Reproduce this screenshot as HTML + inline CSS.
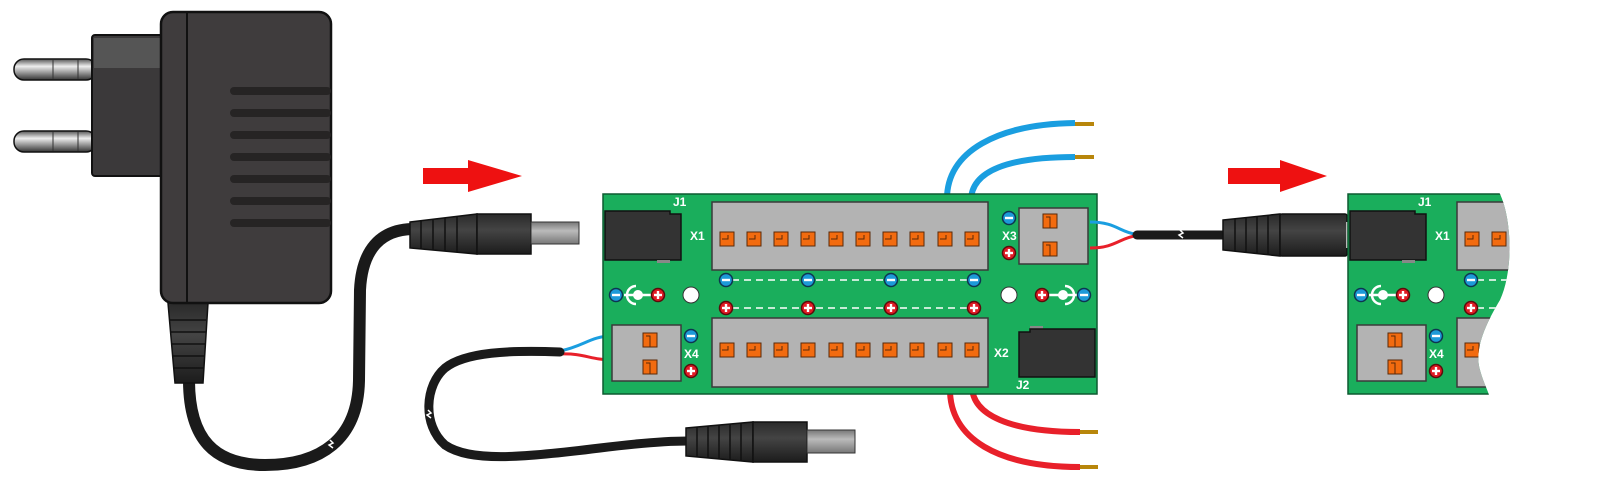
<!DOCTYPE html>
<html><head><meta charset="utf-8"><style>
html,body{margin:0;padding:0;background:#fff;width:1600px;height:499px;overflow:hidden}
svg{display:block}
text{font-family:"Liberation Sans",sans-serif;font-weight:bold;fill:#fff;font-size:12px}
</style></head><body>
<svg width="1600" height="499" viewBox="0 0 1600 499" xmlns="http://www.w3.org/2000/svg">
<defs>
<linearGradient id="pin" x1="0" y1="0" x2="0" y2="1"><stop offset="0" stop-color="#555"/><stop offset=".35" stop-color="#eee"/><stop offset="1" stop-color="#333"/></linearGradient>
<linearGradient id="tip" x1="0" y1="0" x2="0" y2="1"><stop offset="0" stop-color="#777"/><stop offset=".4" stop-color="#bbb"/><stop offset="1" stop-color="#777"/></linearGradient>
<linearGradient id="blk" x1="0" y1="0" x2="0" y2="1"><stop offset="0" stop-color="#2a2a2a"/><stop offset=".4" stop-color="#444"/><stop offset="1" stop-color="#1c1c1c"/></linearGradient>
<g id="pm"><circle r="6.5" fill="#1d9ad8" stroke="#0e3550" stroke-width="1.5"/><rect x="-4" y="-1.2" width="8" height="2.4" fill="#fff"/></g>
<g id="pp"><circle r="6.5" fill="#e01b24" stroke="#5a0c0c" stroke-width="1.5"/><rect x="-4" y="-1.2" width="8" height="2.4" fill="#fff"/><rect x="-1.2" y="-4" width="2.4" height="8" fill="#fff"/></g>
<g id="pad"><rect x="0" y="0" width="14" height="14" fill="#f26b0f" stroke="#5a2a08" stroke-width="1"/><path d="M2,7 H8 V3" fill="none" stroke="#5a2a08" stroke-width="1"/></g>
<g id="padv"><rect x="0" y="0" width="14" height="14" fill="#f26b0f" stroke="#5a2a08" stroke-width="1"/><path d="M7,14 V3 H3" fill="none" stroke="#5a2a08" stroke-width="1"/></g>
<g id="jack"><line x1="-14" y1="0" x2="14" y2="0" stroke="#fff" stroke-width="2.5"/><circle r="5" fill="#fff"/><path d="M-2,-9 A9,9 0 0 0 -2,9" fill="none" stroke="#fff" stroke-width="2.5"/></g>
<clipPath id="rclip"><path d="M1340,190 H1498 C1512,215 1514,270 1500,300 C1485,325 1474,350 1480,370 C1484,385 1490,394 1490,400 H1340 Z"/></clipPath>
</defs>

<!-- adapter cable -->
<path d="M189,380 C189,440 215,465 265,465 C320,465 358,440 359,380 L360,290 C362,250 380,230 412,229" fill="none" stroke="#1a1a1a" stroke-width="12"/>
<path d="M330,440 l3,3 l-4,2 l4,3" fill="none" stroke="#fff" stroke-width="1.5"/>
<!-- adapter -->
<path d="M168,303 L208,303 L203,383 L175,383 Z" fill="url(#blk)" stroke="#111" stroke-width="1.5"/>
<g stroke="#111" stroke-width="1.5"><line x1="170" y1="320" x2="206" y2="320"/><line x1="171" y1="332" x2="206" y2="332"/><line x1="172" y1="344" x2="205" y2="344"/><line x1="173" y1="356" x2="204" y2="356"/><line x1="174" y1="368" x2="204" y2="368"/></g>
<rect x="14" y="59" width="82" height="21" rx="10" fill="url(#pin)" stroke="#111" stroke-width="1.5"/>
<rect x="14" y="131" width="82" height="21" rx="10" fill="url(#pin)" stroke="#111" stroke-width="1.5"/>
<line x1="53" y1="60" x2="53" y2="79" stroke="#333"/><line x1="78" y1="60" x2="78" y2="79" stroke="#333"/>
<line x1="53" y1="132" x2="53" y2="151" stroke="#333"/><line x1="78" y1="132" x2="78" y2="151" stroke="#333"/>
<rect x="92" y="35" width="74" height="141" rx="3" fill="#3b393a" stroke="#111" stroke-width="2"/>
<rect x="94" y="38" width="70" height="30" fill="#555"/>
<rect x="161" y="12" width="170" height="291" rx="12" fill="#3f3c3d" stroke="#111" stroke-width="2.5"/>
<line x1="187" y1="13" x2="187" y2="302" stroke="#111" stroke-width="2"/>
<g fill="#262424">
<rect x="230" y="87" width="101" height="8" rx="4"/><rect x="230" y="109" width="101" height="8" rx="4"/><rect x="230" y="131" width="101" height="8" rx="4"/><rect x="230" y="153" width="101" height="8" rx="4"/><rect x="230" y="175" width="101" height="8" rx="4"/><rect x="230" y="197" width="101" height="8" rx="4"/><rect x="230" y="219" width="101" height="8" rx="4"/>
</g>
<!-- plug 1 -->
<path d="M410,222 L477,214 L477,254 L410,248 Z" fill="url(#blk)" stroke="#111" stroke-width="1.5"/>
<g stroke="#111" stroke-width="1.5"><line x1="421" y1="221" x2="421" y2="249"/><line x1="433" y1="220" x2="433" y2="250"/><line x1="445" y1="218" x2="445" y2="251"/><line x1="457" y1="217" x2="457" y2="252"/></g>
<rect x="477" y="214" width="54" height="40" fill="url(#blk)" stroke="#111" stroke-width="1.5"/>
<rect x="531" y="222" width="48" height="22" fill="url(#tip)" stroke="#333"/>
<!-- arrows -->
<path d="M423,168 H468 V160 L522,176 L468,192 V184 H423 Z" fill="#ee1111"/>
<path d="M1228,168 H1280 V160 L1327,176 L1280,192 V184 H1228 Z" fill="#ee1111"/>

<!-- top blue wires -->
<path d="M947,202 C945,150 1000,124 1075,123" fill="none" stroke="#1a9ee0" stroke-width="6"/>
<path d="M971,202 C970,170 1010,157 1075,157" fill="none" stroke="#1a9ee0" stroke-width="6"/>
<line x1="1075" y1="124" x2="1094" y2="124" stroke="#b8860b" stroke-width="4"/>
<line x1="1075" y1="157" x2="1094" y2="157" stroke="#b8860b" stroke-width="4"/>
<!-- bottom red wires -->
<path d="M950,386 C948,440 1000,467 1080,467" fill="none" stroke="#e8202a" stroke-width="6"/>
<path d="M972,386 C972,415 1010,432 1080,432" fill="none" stroke="#e8202a" stroke-width="6"/>
<line x1="1080" y1="467" x2="1098" y2="467" stroke="#b8860b" stroke-width="4"/>
<line x1="1080" y1="432" x2="1098" y2="432" stroke="#b8860b" stroke-width="4"/>

<!-- cable 2 (X4 to plug) -->
<path d="M613,336 C590,336 585,346 560,351" fill="none" stroke="#1a9ee0" stroke-width="3"/>
<path d="M613,360 C590,360 585,353 560,354" fill="none" stroke="#e8202a" stroke-width="3"/>
<path d="M560,352 C510,350 465,352 445,368 C425,385 422,425 445,445 C470,462 520,458 600,448 C640,443 670,441 688,441" fill="none" stroke="#1a1a1a" stroke-width="9" stroke-linecap="round"/>
<path d="M428,410 l3,3 l-4,2 l4,3" fill="none" stroke="#fff" stroke-width="1.5"/>
<path d="M686,428 L753,422 L753,462 L686,456 Z" fill="url(#blk)" stroke="#111" stroke-width="1.5"/>
<g stroke="#111" stroke-width="1.5"><line x1="697" y1="427" x2="697" y2="457"/><line x1="708" y1="426" x2="708" y2="458"/><line x1="719" y1="425" x2="719" y2="459"/><line x1="730" y1="424" x2="730" y2="460"/><line x1="741" y1="423" x2="741" y2="461"/></g>
<rect x="753" y="422" width="54" height="40" fill="url(#blk)" stroke="#111" stroke-width="1.5"/>
<rect x="807" y="430" width="48" height="23" fill="url(#tip)" stroke="#333"/>

<!-- main board -->
<rect x="603" y="194" width="494" height="200" fill="#1aae5c" stroke="#0d5a30" stroke-width="1.5"/>
<path d="M605,211 H670 V214 H681 V260 H605 Z" fill="#333" stroke="#111" stroke-width="1.5"/>
<rect x="657" y="260" width="13" height="3" fill="#888"/>
<text x="673" y="206">J1</text>
<text x="690" y="240">X1</text>
<rect x="712" y="202" width="276" height="68" fill="#b3b3b3" stroke="#3a3a3a" stroke-width="1.5"/>
<rect x="712" y="318" width="276" height="69" fill="#b3b3b3" stroke="#3a3a3a" stroke-width="1.5"/>
<g>
<use href="#pad" x="720" y="232"/><use href="#pad" x="747" y="232"/><use href="#pad" x="774" y="232"/><use href="#pad" x="801" y="232"/><use href="#pad" x="829" y="232"/><use href="#pad" x="856" y="232"/><use href="#pad" x="883" y="232"/><use href="#pad" x="910" y="232"/><use href="#pad" x="938" y="232"/><use href="#pad" x="965" y="232"/>
<use href="#pad" x="720" y="343"/><use href="#pad" x="747" y="343"/><use href="#pad" x="774" y="343"/><use href="#pad" x="801" y="343"/><use href="#pad" x="829" y="343"/><use href="#pad" x="856" y="343"/><use href="#pad" x="883" y="343"/><use href="#pad" x="910" y="343"/><use href="#pad" x="938" y="343"/><use href="#pad" x="965" y="343"/>
</g>
<line x1="732" y1="280" x2="968" y2="280" stroke="#fff" stroke-width="1.5" stroke-dasharray="7,5"/>
<line x1="732" y1="308" x2="968" y2="308" stroke="#fff" stroke-width="1.5" stroke-dasharray="7,5"/>
<use href="#pm" x="726" y="280"/><use href="#pm" x="808" y="280"/><use href="#pm" x="891" y="280"/><use href="#pm" x="974" y="280"/>
<use href="#pp" x="726" y="308"/><use href="#pp" x="808" y="308"/><use href="#pp" x="891" y="308"/><use href="#pp" x="974" y="308"/>
<use href="#jack" x="638" y="295"/><use href="#pm" x="616" y="295"/><use href="#pp" x="658" y="295"/>
<circle cx="691" cy="295" r="8" fill="#fff" stroke="#333"/>
<circle cx="1009" cy="295" r="8" fill="#fff" stroke="#333"/>
<g transform="translate(1063,295) scale(-1,1)"><use href="#jack"/></g>
<use href="#pp" x="1042" y="295"/><use href="#pm" x="1084" y="295"/>
<!-- X4 -->
<rect x="612" y="325" width="69" height="56" fill="#b3b3b3" stroke="#3a3a3a" stroke-width="1.5"/>
<use href="#padv" x="643" y="333"/><use href="#padv" x="643" y="360"/>
<use href="#pm" x="691" y="336"/><use href="#pp" x="691" y="371"/>
<text x="684" y="358">X4</text>
<text x="994" y="357">X2</text>
<!-- X3 -->
<use href="#pm" x="1009" y="218"/><use href="#pp" x="1009" y="253"/>
<text x="1002" y="240">X3</text>
<rect x="1019" y="208" width="69" height="56" fill="#b3b3b3" stroke="#3a3a3a" stroke-width="1.5"/>
<use href="#padv" x="1043" y="214"/><use href="#padv" x="1043" y="242"/>
<!-- J2 -->
<rect x="1030" y="326" width="13" height="3" fill="#888"/>
<path d="M1019,332 H1030 V329 H1095 V377 H1019 Z" fill="#333" stroke="#111" stroke-width="1.5"/>
<text x="1016" y="389">J2</text>

<!-- right cable -->
<path d="M1090,222 C1115,222 1120,232 1135,234" fill="none" stroke="#1a9ee0" stroke-width="3"/>
<path d="M1090,248 C1115,248 1120,238 1135,236" fill="none" stroke="#e8202a" stroke-width="3"/>
<line x1="1137" y1="235" x2="1225" y2="235" stroke="#1a1a1a" stroke-width="9" stroke-linecap="round"/>
<path d="M1180,230 l3,3 l-4,2 l4,3" fill="none" stroke="#fff" stroke-width="1.5"/>
<path d="M1223,220 L1280,214 L1280,256 L1223,250 Z" fill="url(#blk)" stroke="#111" stroke-width="1.5"/>
<g stroke="#111" stroke-width="1.5"><line x1="1235" y1="219" x2="1235" y2="251"/><line x1="1246" y1="218" x2="1246" y2="252"/><line x1="1257" y1="217" x2="1257" y2="253"/><line x1="1268" y1="216" x2="1268" y2="254"/></g>
<rect x="1280" y="214" width="67" height="42" rx="2" fill="url(#blk)" stroke="#111" stroke-width="1.5"/>
<rect x="1346" y="222" width="5" height="26" fill="#bbb"/>

<!-- right partial board -->
<g clip-path="url(#rclip)">
<rect x="1348" y="194" width="170" height="200" fill="#1aae5c" stroke="#0d5a30" stroke-width="1.5"/>
<path d="M1350,211 H1415 V214 H1426 V260 H1350 Z" fill="#333" stroke="#111" stroke-width="1.5"/>
<rect x="1402" y="260" width="13" height="3" fill="#888"/>
<text x="1418" y="206">J1</text>
<text x="1435" y="240">X1</text>
<rect x="1457" y="202" width="80" height="68" fill="#b3b3b3" stroke="#3a3a3a" stroke-width="1.5"/>
<rect x="1457" y="318" width="80" height="69" fill="#b3b3b3" stroke="#3a3a3a" stroke-width="1.5"/>
<use href="#pad" x="1465" y="232"/><use href="#pad" x="1492" y="232"/>
<use href="#pad" x="1465" y="343"/>
<line x1="1477" y1="280" x2="1520" y2="280" stroke="#fff" stroke-width="1.5" stroke-dasharray="7,5"/>
<line x1="1477" y1="308" x2="1520" y2="308" stroke="#fff" stroke-width="1.5" stroke-dasharray="7,5"/>
<use href="#pm" x="1471" y="280"/><use href="#pp" x="1471" y="308"/>
<use href="#jack" x="1383" y="295"/><use href="#pm" x="1361" y="295"/><use href="#pp" x="1403" y="295"/>
<circle cx="1436" cy="295" r="8" fill="#fff" stroke="#333"/>
<rect x="1357" y="325" width="69" height="56" fill="#b3b3b3" stroke="#3a3a3a" stroke-width="1.5"/>
<use href="#padv" x="1388" y="333"/><use href="#padv" x="1388" y="360"/>
<use href="#pm" x="1436" y="336"/><use href="#pp" x="1436" y="371"/>
<text x="1429" y="358">X4</text>
</g>
</svg>
</body></html>
